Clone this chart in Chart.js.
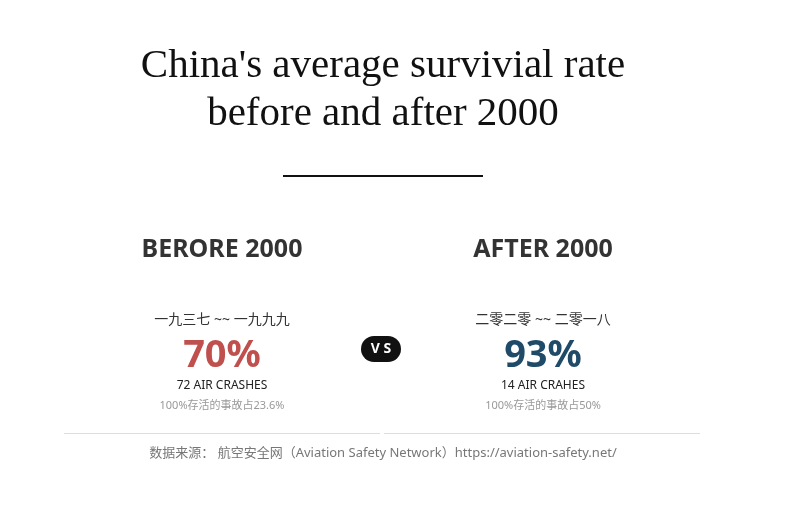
<!DOCTYPE html>
<html><head><meta charset="utf-8">
<script src="https://cdn.jsdelivr.net/npm/chart.js@4"></script>
<style>html,body{margin:0;background:#fff}canvas{display:block}</style>
</head><body>
<canvas id="c" width="806" height="519"></canvas>
<script>
const titleLines = ["China's average survivial rate", 'before and after 2000'];
const periods = ['BERORE 2000', 'AFTER 2000'];
const ranges = ['一九三七 ~~ 一九九九', '二零二零 ~~ 二零一八'];
const rates = [70, 93];
const crashes = ['72 AIR CRASHES', '14 AIR CRAHES'];
const notes = ['100%存活的事故占23.6%', '100%存活的事故占50%'];
const colors = ['#c0504e', '#1f4a68'];
const source = '数据来源： 航空安全网（Aviation Safety Network）https://aviation-safety.net/';

const sans = '"Noto Sans", "Noto Sans CJK SC", sans-serif';

const infographic = {
  id: 'infographic',
  afterDraw(chart) {
    const ctx = chart.ctx;
    ctx.save();
    ctx.textAlign = 'center';
    ctx.textBaseline = 'middle';
    ctx.fillStyle = '#111';
    ctx.font = '300 41px "Liberation Serif", serif';
    titleLines.forEach((t, i) => ctx.fillText(t, 383, 66 + i * 48));
    ctx.fillRect(283, 175, 200, 2);

    const cx = [222, 543];
    periods.forEach((p, i) => {
      ctx.fillStyle = '#333';
      ctx.font = 'bold 25px ' + sans;
      ctx.fillText(p, cx[i], 250);
      ctx.font = '14px ' + sans;
      ctx.fillText(ranges[i], cx[i], 320);
      ctx.fillStyle = colors[i];
      ctx.font = 'bold 38px ' + sans;
      ctx.fillText(rates[i] + '%', cx[i], 356);
      ctx.fillStyle = '#222';
      ctx.font = '12px ' + sans;
      ctx.fillText(crashes[i], cx[i], 386);
      ctx.fillStyle = '#999';
      ctx.font = '11px ' + sans;
      ctx.fillText(notes[i], cx[i], 406);
    });

    ctx.fillStyle = '#111';
    ctx.beginPath();
    ctx.roundRect(361, 336, 40, 26, 13);
    ctx.fill();
    ctx.fillStyle = '#fff';
    ctx.font = 'bold 14px ' + sans;
    ctx.fillText('V S', 381, 349);

    ctx.fillStyle = '#ddd';
    ctx.fillRect(64, 433, 316, 1);
    ctx.fillRect(384, 433, 316, 1);

    ctx.fillStyle = '#777';
    ctx.font = '13px ' + sans;
    ctx.fillText(source, 383, 453);
    ctx.restore();
  },
};

new Chart(document.getElementById('c'), {
  type: 'bar',
  data: { labels: periods, datasets: [{ data: [], backgroundColor: colors }] },
  options: {
    responsive: false,
    animation: false,
    events: [],
    plugins: { legend: { display: false }, tooltip: { enabled: false } },
    scales: { x: { display: false }, y: { display: false } },
  },
  plugins: [infographic],
});
</script>
</body></html>
